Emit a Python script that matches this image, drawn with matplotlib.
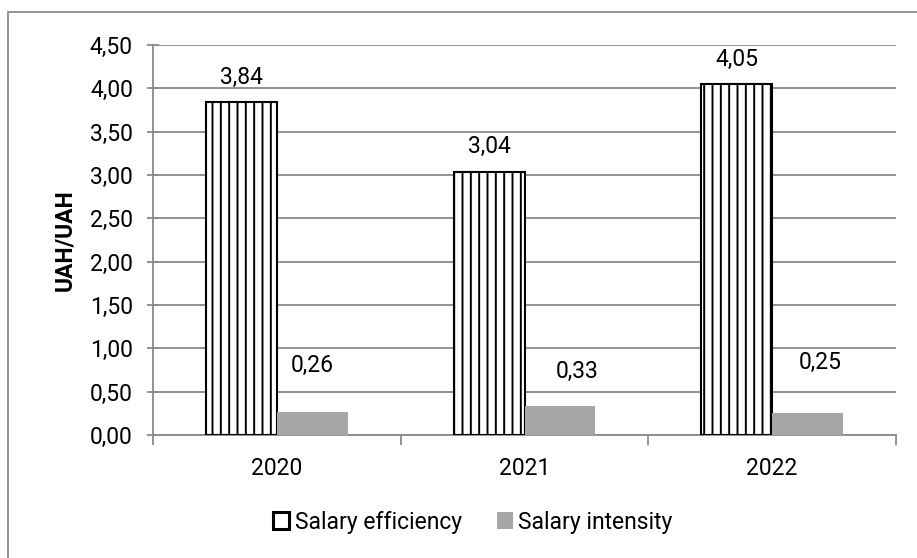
import matplotlib
matplotlib.use("Agg")
import matplotlib.pyplot as plt
from matplotlib.patches import Rectangle, Patch
import numpy as np

years = ["2020", "2021", "2022"]
efficiency = [3.84, 3.04, 4.05]
intensity = [0.26, 0.33, 0.25]
intensity_label_y = [0.80, 0.73, 0.84]
intensity_label_dx = [0.0, 0.07, 0.05]
yticks = [0.0, 0.5, 1.0, 1.5, 2.0, 2.5, 3.0, 3.5, 4.0, 4.5]

plt.rcParams['font.family'] = ['Roboto', 'DejaVu Sans']
plt.rcParams['hatch.linewidth'] = 1.4
plt.rcParams['hatch.color'] = 'black'

FS = 16.5
fig = plt.figure(figsize=(9.17, 5.58), dpi=100)
ax = fig.add_axes([153/917, 1-435/558, (896-153)/917, (435-45)/558])

x = np.arange(len(years))
w = 0.286
grid_c = '#8a8a8a'

ax.bar(x - w/2, efficiency, width=w, color='white', edgecolor='black',
       linewidth=1.5, hatch='||', zorder=3)
ax.bar(x + w/2, intensity, width=w, color='#a6a6a6', edgecolor='none', zorder=3)

for xi, v in zip(x, efficiency):
    ax.annotate(f"{v:.2f}".replace('.', ','), (xi - w/2, v), xytext=(0, 18),
                textcoords='offset points', ha='center', va='center', fontsize=FS)
for xi, v, ly, dx in zip(x, intensity, intensity_label_y, intensity_label_dx):
    ax.text(xi + w/2 + dx, ly, f"{v:.2f}".replace('.', ','), ha='center',
            va='center', fontsize=FS)

ax.set_xlim(-0.5, 2.5)
ax.set_ylim(0, 4.5)
ax.set_yticks(yticks)
ax.set_yticklabels([f"{t:.2f}".replace('.', ',') for t in yticks], fontsize=FS)
ax.yaxis.grid(True, color=grid_c, linewidth=1.3, zorder=0)
ax.set_axisbelow(True)

ax.set_xticks(x)
ax.set_xticklabels(years, fontsize=FS)
ax.set_xticks([-0.5, 0.5, 1.5, 2.5], minor=True)
ax.tick_params(axis='x', which='major', length=0, pad=16)
ax.tick_params(axis='x', which='minor', length=7, width=1.3, color=grid_c, direction='out')
ax.tick_params(axis='y', length=9, width=1.3, color=grid_c, direction='inout', pad=10)

for s in ['top', 'right']:
    ax.spines[s].set_visible(False)
for s in ['left', 'bottom']:
    ax.spines[s].set_color(grid_c)
    ax.spines[s].set_linewidth(1.3)

ax.set_ylabel("UAH/UAH", fontsize=FS, fontweight='bold', labelpad=10)

handles = [Patch(facecolor='white', edgecolor='black', linewidth=2.2),
           Patch(facecolor='#a6a6a6', edgecolor='none')]
fig.legend(handles, ['Salary efficiency', 'Salary intensity'], loc='center',
           bbox_to_anchor=(473/917, 1-522/558), ncol=2, frameon=False,
           fontsize=FS, handlelength=0.7, handleheight=0.7,
           handletextpad=0.25, columnspacing=1.5)

fig.patches.append(Rectangle((8/917, -0.1), 1.2, 1 - 12/558 + 0.1,
                             transform=fig.transFigure, fill=False,
                             edgecolor=grid_c, linewidth=1.3))

fig.savefig("out.png", dpi=100)
